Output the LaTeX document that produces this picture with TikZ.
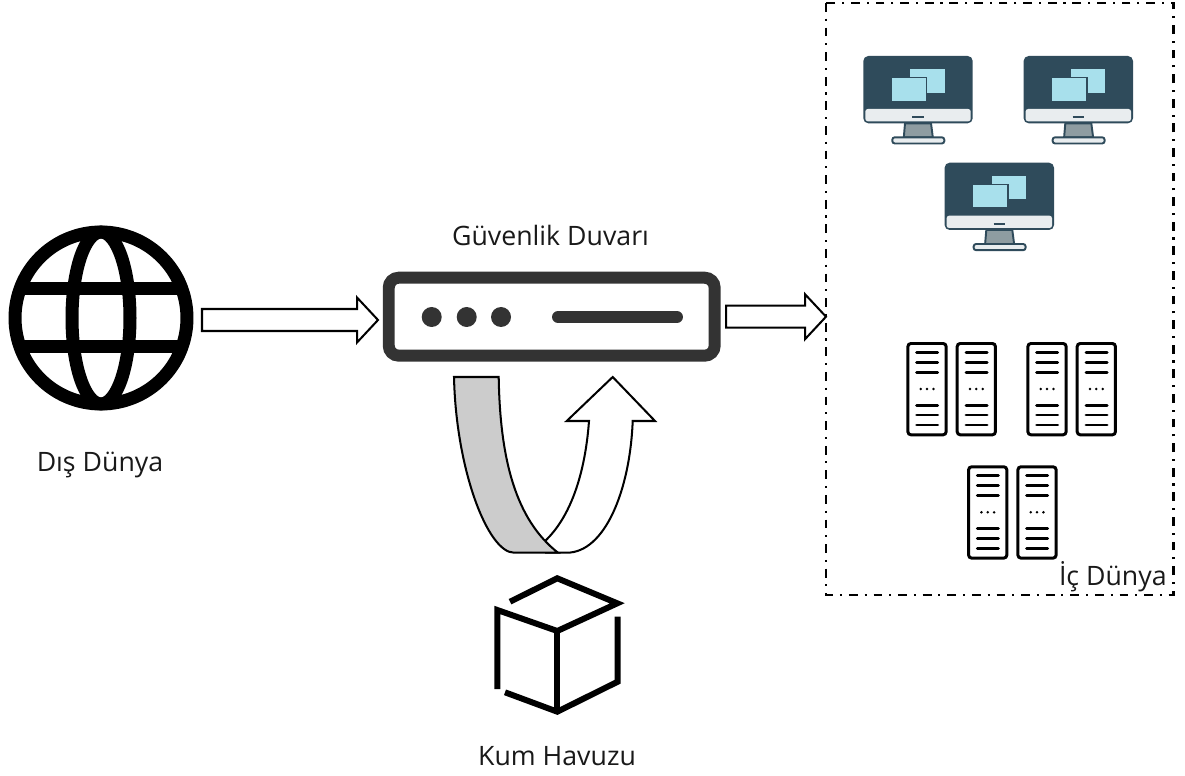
\documentclass[tikz,border=0pt]{standalone}
\usepackage{fontspec}
\setmainfont{Open Sans}
\definecolor{fwgray}{HTML}{333333}
\definecolor{bandgray}{HTML}{CCCCCC}
\definecolor{screendark}{HTML}{2F4B5B}
\definecolor{screenlight}{HTML}{A8E0EC}
\definecolor{chinlight}{HTML}{E9EDEF}
\definecolor{standgray}{HTML}{8E9CA1}
\tikzset{
	blockline/.style={draw=black,fill=white,line width=1.15pt,miter limit=10},
	lbl/.style={font=\fontsize{15.2pt}{18pt}\selectfont,text=black!90,inner sep=0pt},
	cubeline/.style={line width=3.4pt,line join=miter},
	monitor/.pic={
		\fill[screendark,rounded corners=.1cm] (0,0) rectangle (109.4,67.3);
		\fill[chinlight,rounded corners=.05cm] (2,53) rectangle (107.4,65.3);
		\fill[screenlight] (47,13.3) rectangle (81.3,36.7);
		\fill[screenlight,draw=screendark,line width=.8pt] (28,21.7) rectangle (63.4,45.3);
		\draw[screendark,line width=1.3pt] (49,61) -- (60.7,61);
		\draw[screendark,fill=standgray,line width=1.1pt] (41.7,67.3) -- (40.5,81.3) -- (69.5,81.3) -- (67.7,67.3) -- cycle;
		\draw[screendark,fill=chinlight,line width=1.1pt,rounded corners=.05cm] (29,81.3) rectangle (81,87.5);
	},
	server/.pic={
		\draw[line width=1.7pt,rounded corners=.06cm] (1.2,1.2) rectangle (39.4,92.5);
		\foreach \y in {10.3,20,30,63,72.7,82.7}
			\draw[line width=1.7pt,line cap=round] (10,\y) -- (31,\y);
		\foreach \x in {14,20.3,26.7}
			\fill (\x,46.7) circle (1.4);
	},
}
\newcommand{\blockarrow}[2]{\draw[blockline] ([yshift=.22cm]#1) -- ([xshift=-.42cm,yshift=.22cm]#2) -- ([xshift=-.42cm,yshift=.45cm]#2) -- (#2) -- ([xshift=-.42cm,yshift=-.45cm]#2) -- ([xshift=-.42cm,yshift=-.22cm]#2) -- ([yshift=-.22cm]#1) -- cycle;}
\begin{document}
\begin{tikzpicture}[x=0.02cm,y=-0.02cm]
	\useasboundingbox (0,0) rectangle (1185,776);

	% globe
	\node[draw,circle,line width=7.4pt,minimum size=3.44cm,inner sep=0pt,outer sep=0pt] (globe) at (101,318) {};
	\draw[line width=7.4pt] (globe) ellipse (29 and 86);
	\draw[line width=7.4pt] (20,289) -- (182,289);
	\draw[line width=7.4pt] (20,346.6) -- (182,346.6);
	\node[lbl] (disdunya) at (100,465) {Dış Dünya};

	% firewall
	\node[draw=fwgray,line width=6.8pt,rounded corners=.2cm,minimum width=6.52cm,minimum height=1.56cm,inner sep=0pt,outer sep=0pt] (firewall) at (551.7,316.7) {};
	\foreach \x in {431.7,466.7,501}
		\fill[fwgray] (\x,317) circle (10);
	\draw[fwgray,line width=6.8pt,line cap=round] (558,317) -- (677,317);
	\node[lbl] (guvenlik) at (550.5,235) {Güvenlik Duvarı};

	% block arrows
	\coordinate (disbas) at (202,320);
	\coordinate (disuc) at (378,320);
	\coordinate (icbas) at (726,316.7);
	\coordinate (icuc) at (826,316.7);
	\blockarrow{disbas}{disuc}
	\blockarrow{icbas}{icuc}

	% sandbox turn
	\draw[blockline] (545,552.7) -- (566.7,552.7) .. controls (605,552.7) and (630,490) .. (632.7,421) -- (655,421) -- (612.7,377) -- (566.7,421) -- (589,421) .. controls (585,475) and (570,518) .. (544.3,541.7);
	\draw[blockline,fill=bandgray] (454,377) -- (498.7,377) .. controls (500,460) and (516,520) .. (558,552.7) -- (514,552.7) .. controls (488,552.7) and (456,470) .. (454,377) -- cycle;

	% cube
	\draw[cubeline] (510,601.7) -- (557.3,578.3) -- (617.3,603.3) -- (557.3,631) -- (497.3,610) -- (497.3,689);
	\draw[cubeline] (557.3,631) -- (557.3,711.7);
	\draw[cubeline] (505,692.3) -- (557.3,711.7) -- (617.7,681.7) -- (617.7,616.7);
	\node[lbl] (kumhavuzu) at (557,756.5) {Kum Havuzu};

	% inner world
	\draw[line width=1.5pt,dash pattern=on 5pt off 3.9pt on 1.2pt off 3.9pt] (826,3) rectangle (1173.3,595);
	\pic at (863.3,56) {monitor};
	\pic at (1023.6,56) {monitor};
	\pic at (944.6,162.7) {monitor};
	\foreach \x/\y in {906.7/342.3,956/342.3,1026.7/342.3,1076/342.3,967.4/465.6,1016.7/465.6}
		\pic at (\x,\y) {server};
	\node[lbl,anchor=east] (icdunya) at (1167,577) {İç Dünya};
\end{tikzpicture}
\end{document}
